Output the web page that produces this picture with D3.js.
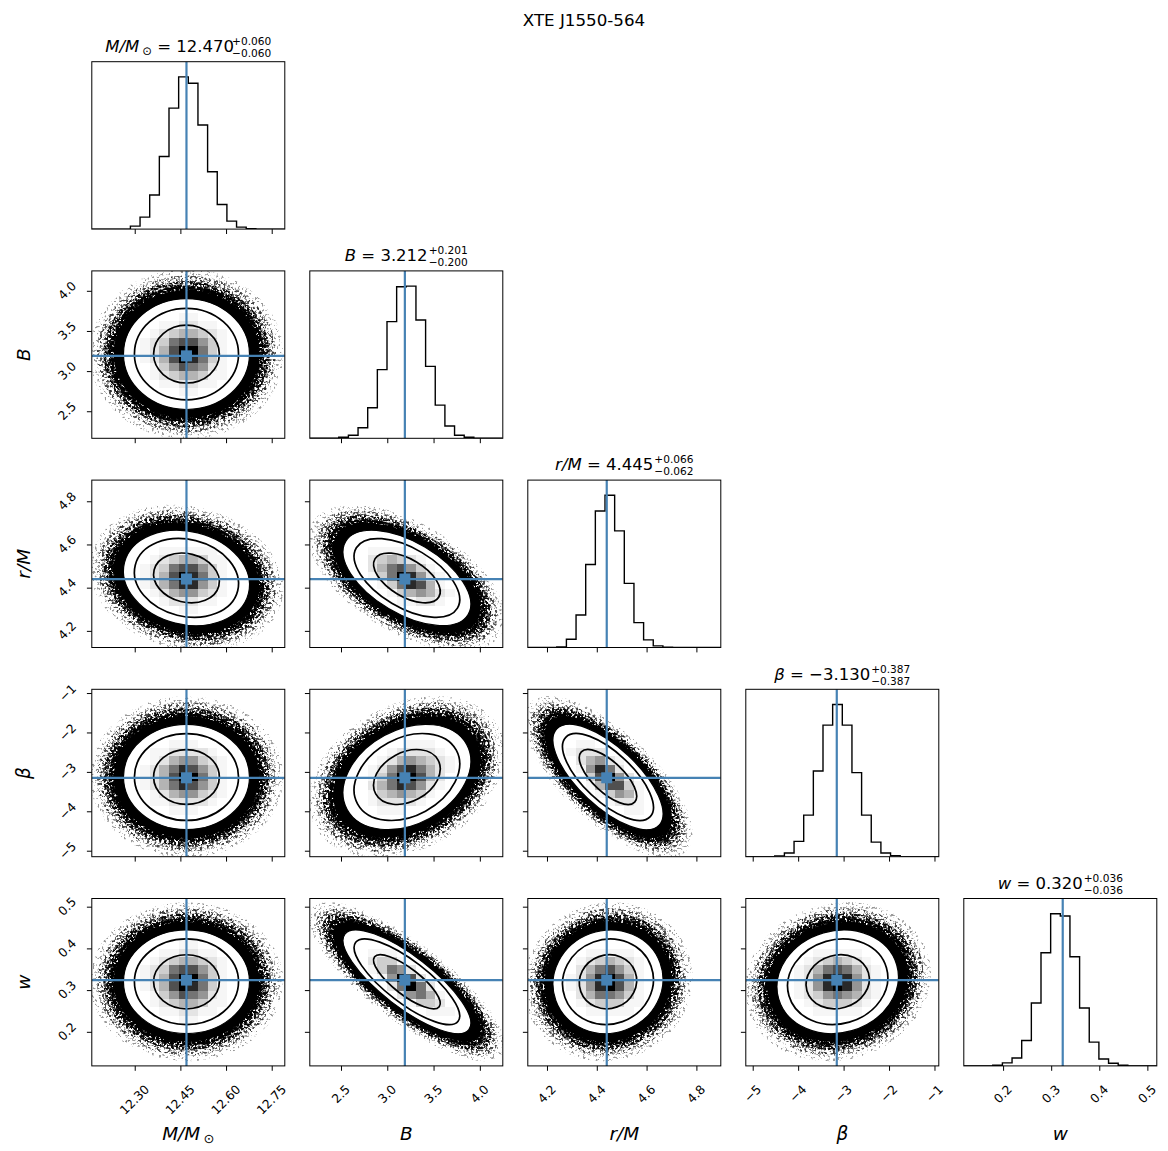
<!DOCTYPE html>
<html><head><meta charset="utf-8"><title>XTE J1550-564 corner plot</title>
<script src="https://cdn.jsdelivr.net/npm/d3@7/dist/d3.min.js"></script>
<style>
html,body{margin:0;padding:0;background:#fff;}
svg text{font-family:"DejaVu Sans",sans-serif;fill:#000;}
</style></head><body>
<svg id="chart" width="1168" height="1151"></svg>
<script>
// ---------------- data ----------------
const chartTitle = "XTE J1550-564";
const paramNames = ["M/M", "B", "r/M", "β", "w"];
const paramSubs = ["⊙", "", "", "", ""];
const medians = [12.470, 3.212, 4.445, -3.130, 0.320];
const errUp = ["0.060", "0.201", "0.066", "0.387", "0.036"];
const errDown = ["0.060", "0.200", "0.062", "0.387", "0.036"];
const truths = [12.470, 3.19, 4.44, -3.15, 0.324];
const axisRanges = [[12.159, 12.793], [2.163, 4.248], [4.123, 4.898], [-5.152, -0.905], [0.1183, 0.5196]];
const tickValues = [[12.30, 12.45, 12.60, 12.75], [2.5, 3.0, 3.5, 4.0], [4.2, 4.4, 4.6, 4.8], [-5, -4, -3, -2, -1], [0.2, 0.3, 0.4, 0.5]];
const tickLabels = [["12.30", "12.45", "12.60", "12.75"], ["2.5", "3.0", "3.5", "4.0"], ["4.2", "4.4", "4.6", "4.8"], ["−5", "−4", "−3", "−2", "−1"], ["0.2", "0.3", "0.4", "0.5"]];
// 1D histograms (20 bins over the axis range), relative counts
const histM    = [0,0,0,0,9,36,103,219,365,459,440,314,173,74,24,6,1,0,0,0];
const histB    = [0,0,0,3,9,32,92,207,352,457,459,357,217,100,37,9,3,0,0,0];
const histR    = [0,0,0,2,25,98,250,411,458,351,193,75,23,5,1,0,0,0,0,0];
const histBeta = [0,0,0,2,11,46,125,258,396,458,396,253,125,44,11,3,0,0,0,0];
const histW    = [0,0,0,2,9,24,77,190,342,460,453,330,175,72,21,8,2,0,0,0];
// sample spreads (1 sigma) and pairwise correlations read from the cloud shapes
const spreads = [0.060, 0.200, 0.064, 0.387, 0.036];
const correlations = [[1,0,0.0],[2,0,-0.15],[2,1,-0.55],[3,0,0.0],[3,1,0.30],[3,2,-0.70],[4,0,0.0],[4,1,-0.80],[4,2,0.05],[4,3,0.10]];
const contourSigmas = [1.8, 2.85];
const whiteSigma = 3.45;
// cloud layers: [sigma radius, speckle threshold (0 = solid), opacity]
const cloudLayers = [[5.3, 0.58, 0.4], [4.9, 0.51, 0.7], [4.55, 0.44, 0.95], [4.25, 0.37, 1], [3.98, 0, 1]];
// 2D histogram cells (20x20 bins), darkness 0-9, rows listed from top bin yTop downwards, starting at column bin x0
const densityGrids = [
 {row:1, col:0, x0:5, yTop:14, rows:["0000110000","0011221100","0123443210","1236775310","1247996310","1247986310","0135765210","0123443110","0011221100","0000110000"]},
 {row:2, col:0, x0:5, yTop:11, rows:["0011111100","0123443110","1236775310","1247986310","1246885310","0124553210","0012221100","0000110000"]},
 {row:2, col:1, x0:5, yTop:11, rows:["01111000000","02343210000","02467531000","01369852100","00136874100","00013454210","00001122100"]},
 {row:3, col:0, x0:5, yTop:13, rows:["0001110000","0112222100","0124553210","1246875310","1247996310","1246875310","0124553210","0112222100","0001110000"]},
 {row:3, col:1, x0:5, yTop:13, rows:["0000011100","0001222210","0012454321","0125786421","0136997420","0246875210","0134543100","0122221000","0011100000"]},
 {row:3, col:2, x0:3, yTop:13, rows:["00110000000","01222000000","00245210000","00158620000","00037952000","00014773100","00001354100","00000122100","00000001100"]},
 {row:4, col:0, x0:5, yTop:14, rows:["0000110000","0011221100","0123443210","1236775310","1247996310","1247986310","0135765210","0123443110","0011221100","0000110000"]},
 {row:4, col:1, x0:5, yTop:13, rows:["01110000000","02331000000","01365200000","00159720000","00026962000","00002564100","00000133200","00000001110"]},
 {row:4, col:2, x0:4, yTop:13, rows:["001111100","012343210","024675310","125897410","125897410","024665310","012333110","001111100"]},
 {row:4, col:3, x0:5, yTop:13, rows:["001111100","012343210","124676421","125898521","125898521","123565421","012333210","001111100"]}
];

// ---------------- layout ----------------
const L0 = 91.8, CS = 218.0, PW = 193.0, T0 = 61.7, RS = 209.2, PH = 167.4;
const fsTick = 12.3, fsTitle = 16.5, fsSup = 10.6, fsLabel = 18.5;
const blue = "#4682b4";
const px = j => L0 + j * CS;
const py = i => T0 + i * RS;
const xs = j => d3.scaleLinear().domain(axisRanges[j]).range([px(j), px(j) + PW]);
const ys = i => d3.scaleLinear().domain(axisRanges[i]).range([py(i) + PH, py(i)]);
const hists = [histM, histB, histR, histBeta, histW];

const svg = d3.select("#chart");
svg.append("rect").attr("width", 1168).attr("height", 1151).attr("fill", "#fff");
const defs = svg.append("defs");
// speckle textures for the fuzzy edge of the sample cloud
let fid = 0;
function speckleFilter(threshold, seed) {
  const id = "speck" + (fid++);
  const f = defs.append("filter").attr("id", id).attr("x", "-20%").attr("y", "-20%").attr("width", "140%").attr("height", "140%");
  f.append("feTurbulence").attr("type", "fractalNoise").attr("baseFrequency", 0.42).attr("numOctaves", 2).attr("seed", seed).attr("result", "n");
  f.append("feColorMatrix").attr("in", "n").attr("type", "matrix")
    .attr("values", `0 0 0 0 0  0 0 0 0 0  0 0 0 0 0  9 0 0 0 ${-9 * threshold}`).attr("result", "m");
  f.append("feComposite").attr("in", "SourceGraphic").attr("in2", "m").attr("operator", "in");
  return `url(#${id})`;
}

function clipFor(i, j) {
  const id = `clip-${i}-${j}`;
  defs.append("clipPath").attr("id", id).append("rect")
    .attr("x", px(j)).attr("y", py(i)).attr("width", PW).attr("height", PH);
  return `url(#${id})`;
}

function frame(g, i, j) {
  g.append("rect").attr("x", px(j)).attr("y", py(i)).attr("width", PW).attr("height", PH)
    .attr("fill", "none").attr("stroke", "#000").attr("stroke-width", 1);
}

function bottomTicks(g, i, j) {
  const ax = g.append("g").attr("transform", `translate(0,${py(i) + PH})`)
    .call(d3.axisBottom(xs(j)).tickValues(tickValues[j]).tickSize(4.9).tickFormat(""));
  ax.select(".domain").remove();
  ax.selectAll("line").attr("stroke-width", 1);
}
function leftTicksAt(g, i, j) {
  const ax = g.append("g").attr("transform", `translate(${px(j)},0)`)
    .call(d3.axisLeft(ys(i)).tickValues(tickValues[i]).tickSize(4.9).tickFormat(""));
  ax.select(".domain").remove();
  ax.selectAll("line").attr("stroke-width", 1);
}

function rotLabel(g, str, mode, a, b) {
  const t = g.append("text").attr("font-size", fsTick).attr("text-anchor", "middle")
    .attr("dominant-baseline", "central").text(str);
  const w = t.node().getComputedTextLength();
  const half = (w + 1.16 * fsTick) * 0.3536;
  let cx, cy;
  if (mode === "x") { cx = a; cy = b + 16.5 + half; }
  else { cx = b - 12.5 - half; cy = a; }
  t.attr("transform", `translate(${cx},${cy}) rotate(-45)`);
}

function nameTspans(t, p, fs) {
  t.append("tspan").attr("font-style", "italic").text(paramNames[p]);
  if (paramSubs[p]) {
    t.append("tspan").attr("font-size", fs * 0.7).attr("dx", fs * 0.18).attr("dy", fs * 0.2).text(paramSubs[p]);
    return fs * 0.2;
  }
  return 0;
}

// ---------------- suptitle ----------------
svg.append("text").attr("x", 584).attr("y", 25.5).attr("text-anchor", "middle")
  .attr("font-size", 16.7).text(chartTitle);

// ---------------- diagonal histograms ----------------
for (let d = 0; d < 5; d++) {
  const g = svg.append("g");
  const x = xs(d);
  const maxH = d3.max(hists[d]);
  const y = d3.scaleLinear().domain([0, 1.1 * maxH]).range([py(d) + PH, py(d)]);
  const r = axisRanges[d];
  const edges = d3.range(21).map(k => r[0] + k * (r[1] - r[0]) / 20);
  const pts = [[edges[0], 0]].concat(hists[d].map((v, k) => [edges[k], v]), [[edges[20], hists[d][19]], [edges[20], 0]]);
  const inner = g.append("g").attr("clip-path", clipFor(d, d));
  inner.append("path").attr("d", d3.line().x(p => x(p[0])).y(p => y(p[1])).curve(d3.curveStepAfter)(pts))
    .attr("fill", "none").attr("stroke", "#000").attr("stroke-width", 1.4);
  inner.append("line").attr("x1", x(truths[d])).attr("x2", x(truths[d])).attr("y1", py(d)).attr("y2", py(d) + PH)
    .attr("stroke", blue).attr("stroke-width", 2.2);
  frame(g, d, d);
  bottomTicks(g, d, d);
  // title
  const cx = px(d) + PW / 2, base = py(d) - 9.7;
  const t = g.append("text").attr("y", base).attr("font-size", fsTitle);
  const shift = nameTspans(t, d, fsTitle);
  const rest = t.append("tspan").text(" = " + d3.format(".3f")(medians[d]));
  if (shift) rest.attr("dy", -shift).attr("font-size", fsTitle);
  const mainW = t.node().getComputedTextLength();
  const sup = g.append("text").attr("y", base - 7.0).attr("font-size", fsSup).text("+" + errUp[d]);
  const sub = g.append("text").attr("y", base + 5.0).attr("font-size", fsSup).text("−" + errDown[d]);
  const extra = Math.max(sup.node().getComputedTextLength(), sub.node().getComputedTextLength());
  const x0 = cx - (mainW + 1 + extra) / 2;
  t.attr("x", x0);
  sup.attr("x", x0 + mainW + 1);
  sub.attr("x", x0 + mainW + 1);
}

// ---------------- 2D panels ----------------
correlations.forEach(([i, j, rho], pIdx) => {
  const g = svg.append("g");
  const x = xs(j), y = ys(i);
  const sx = spreads[j] * Math.abs(x(1) - x(0));
  const sy = spreads[i] * Math.abs(y(1) - y(0));
  const a = sx * sx, c = sy * sy, b = -rho * sx * sy;
  const tr = (a + c) / 2, dd = Math.sqrt(((a - c) / 2) ** 2 + b * b);
  const r1 = Math.sqrt(tr + dd), r2 = Math.sqrt(Math.max(tr - dd, 1e-6));
  const theta = 0.5 * Math.atan2(2 * b, a - c) * 180 / Math.PI;
  const cx = x(medians[j]), cy = y(medians[i]);
  const inner = g.append("g").attr("clip-path", clipFor(i, j));
  const ell = (k, parent) => (parent || inner).append("ellipse").attr("cx", 0).attr("cy", 0).attr("rx", k * r1).attr("ry", k * r2)
    .attr("transform", `translate(${cx},${cy}) rotate(${theta})`);
  // scatter cloud
  cloudLayers.forEach(([k, thr, op], li) => {
    if (thr > 0) {
      const lg = inner.append("g").attr("filter", speckleFilter(thr, 3 + pIdx * 7 + li)).attr("opacity", op);
      ell(k, lg).attr("fill", "#000");
    } else {
      ell(k).attr("fill", "#000");
    }
  });
  // white fill inside outer contour
  ell(whiteSigma).attr("fill", "#fff").attr("stroke", "#000").attr("stroke-width", 1.2);
  // density cells
  const grid = densityGrids.find(G => G.row === i && G.col === j);
  const rx = axisRanges[j], ry = axisRanges[i];
  const bwX = (rx[1] - rx[0]) / 20, bwY = (ry[1] - ry[0]) / 20;
  const cells = [];
  grid.rows.forEach((str, r) => {
    const jy = grid.yTop - r;
    str.split("").forEach((ch, k) => {
      const v = +ch;
      if (v > 0) cells.push({kx: grid.x0 + k, ky: jy, h: v / 9});
    });
  });
  inner.selectAll("rect.cell").data(cells).join("rect").attr("class", "cell")
    .attr("x", d => x(rx[0] + d.kx * bwX)).attr("width", d => x(rx[0] + (d.kx + 1) * bwX) - x(rx[0] + d.kx * bwX))
    .attr("y", d => y(ry[0] + (d.ky + 1) * bwY)).attr("height", d => y(ry[0] + d.ky * bwY) - y(ry[0] + (d.ky + 1) * bwY))
    .attr("fill", d => { const c = Math.round(255 * (1 - d.h)); return `rgb(${c},${c},${c})`; })
    .attr("fill-opacity", d => Math.sqrt(d.h)).attr("shape-rendering", "crispEdges");
  // contours
  contourSigmas.forEach(k => ell(k).attr("fill", "none").attr("stroke", "#000").attr("stroke-width", 1.7));
  // truth lines and marker
  const tx = x(truths[j]), ty = y(truths[i]);
  inner.append("line").attr("x1", tx).attr("x2", tx).attr("y1", py(i)).attr("y2", py(i) + PH).attr("stroke", blue).attr("stroke-width", 2.2);
  inner.append("line").attr("x1", px(j)).attr("x2", px(j) + PW).attr("y1", ty).attr("y2", ty).attr("stroke", blue).attr("stroke-width", 2.2);
  inner.append("rect").attr("x", tx - 5.5).attr("y", ty - 5.5).attr("width", 11).attr("height", 11).attr("fill", blue);
  frame(g, i, j);
  bottomTicks(g, i, j);
  leftTicksAt(g, i, j);
});

// ---------------- tick labels and axis labels ----------------
const lab = svg.append("g");
for (let j = 0; j < 5; j++) {
  const x = xs(j);
  tickValues[j].forEach((v, k) => rotLabel(lab, tickLabels[j][k], "x", x(v), py(4) + PH));
  const t = lab.append("text").attr("x", px(j) + PW / 2).attr("y", 1139.5).attr("text-anchor", "middle").attr("font-size", fsLabel);
  nameTspans(t, j, fsLabel);
}
for (let i = 1; i < 5; i++) {
  const y = ys(i);
  tickValues[i].forEach((v, k) => rotLabel(lab, tickLabels[i][k], "y", y(v), px(0)));
  const t = lab.append("text").attr("text-anchor", "middle").attr("font-size", fsLabel)
    .attr("transform", `translate(30,${py(i) + PH / 2}) rotate(-90)`);
  nameTspans(t, i, fsLabel);
}
</script></body></html>
